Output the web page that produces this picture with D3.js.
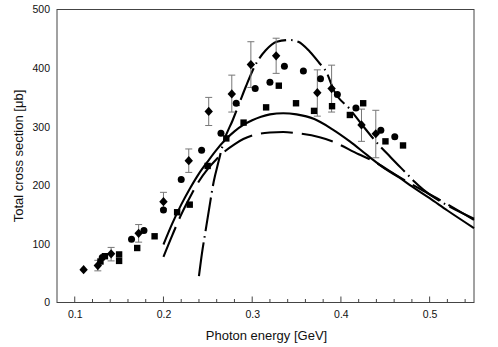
<!DOCTYPE html>
<html><head><meta charset="utf-8">
<script src="https://cdnjs.cloudflare.com/ajax/libs/d3/7.8.5/d3.min.js"></script>
<style>body{margin:0;background:#fff}svg{display:block}text{font-family:"Liberation Sans",Arial,sans-serif;fill:#111}</style>
</head><body><svg id="c" width="498" height="347"></svg>
<script>
// Data
const xTicks = [0.1, 0.2, 0.3, 0.4, 0.5];
const yTicks = [0, 100, 200, 300, 400, 500];

const diamondX  = [0.11, 0.126, 0.141, 0.172, 0.2, 0.2285, 0.251, 0.277, 0.2985, 0.327, 0.3734, 0.3895, 0.4232, 0.4393];
const diamondY  = [56, 63, 83, 118, 172, 242, 326, 356, 406, 421, 358, 365, 303, 288];
const diamondLo = [null, 54, 71, 103, 160, 222, 302, 325, 367, 391, 318, 325, 275, 247];
const diamondHi = [null, 72, 94, 133, 188, 262, 350, 388, 445, 451, 397, 405, 330, 328];

const circleX = [0.131, 0.164, 0.178, 0.2, 0.22, 0.243, 0.2648, 0.282, 0.3034, 0.32, 0.3363, 0.3577, 0.377, 0.396, 0.4169, 0.445, 0.4607];
const circleY = [77, 108, 123, 158, 210, 260, 289, 340, 365, 376, 403, 395, 382, 355, 332, 294, 283];

const squareX = [0.129, 0.134, 0.15, 0.15, 0.1704, 0.19, 0.2154, 0.2296, 0.2498, 0.2708, 0.2903, 0.3157, 0.33, 0.3494, 0.3697, 0.39, 0.4101, 0.4251, 0.4502, 0.47];
const squareY = [70, 79, 82, 71, 93, 113, 154, 167, 233, 280, 307, 333, 370, 340, 327, 335, 320, 340, 275, 268];

const solidX = [0.2, 0.21, 0.22, 0.23, 0.24, 0.25, 0.26, 0.27, 0.28, 0.29, 0.30, 0.31, 0.32, 0.335, 0.35, 0.37, 0.39, 0.41, 0.43, 0.45, 0.466, 0.48, 0.50, 0.52, 0.55];
const solidY = [99, 135, 167, 195, 220, 241, 261, 278, 292, 303, 311, 317, 321, 323, 321, 313, 296, 275, 251, 228, 213, 198, 178, 157, 127];

const dashX = [0.2, 0.21, 0.22, 0.23, 0.24, 0.25, 0.26, 0.27, 0.28, 0.29, 0.30, 0.32, 0.335, 0.35, 0.376, 0.39, 0.42, 0.433, 0.466, 0.49, 0.515, 0.55];
const dashY = [78, 115, 150, 180, 207, 228, 245, 259, 270, 279, 285, 290, 291, 289, 282, 275, 253, 244, 214, 193, 172, 141];

const dotDashX = [0.24, 0.2435, 0.2472, 0.252, 0.2566, 0.262, 0.268, 0.278, 0.286, 0.293, 0.3034, 0.315, 0.3277, 0.342, 0.352, 0.365, 0.375, 0.384, 0.392, 0.41, 0.425, 0.438, 0.456, 0.474, 0.483, 0.4925, 0.515, 0.55];
const dotDashY = [45, 85, 120, 165, 206, 240, 275, 311, 342, 369, 405, 430, 445, 448, 445, 428, 410, 392, 362, 330, 301, 277, 248, 220, 206, 193, 170, 143];

const svg = d3.select("#c");
const L = 57, R = 474, T = 9.5, B = 302.5;
const x = d3.scaleLinear().domain([0.08, 0.55]).range([L, R]);
const y = d3.scaleLinear().domain([0, 500]).range([B, T]);

// frame
svg.append("rect").attr("x", L).attr("y", T).attr("width", R - L).attr("height", B - T)
  .attr("fill", "none").attr("stroke", "#444").attr("stroke-width", 1);

// x ticks (inside), minor every 0.02
const minor = d3.range(0.1, 0.5401, 0.02);
svg.append("g").selectAll("line").data(minor).join("line")
  .attr("x1", d => x(d)).attr("x2", d => x(d))
  .attr("y1", B).attr("y2", d => B - (Math.abs(d * 10 - Math.round(d * 10)) < 1e-6 ? 6 : 3.5))
  .attr("stroke", "#444").attr("stroke-width", 1);

const xa = d3.axisBottom(x).tickValues(xTicks).tickSize(0).tickPadding(8).tickFormat(d3.format(".1f"));
const gx = svg.append("g").attr("transform", `translate(0,${B})`).call(xa);
gx.select(".domain").remove();
gx.selectAll("text").attr("font-size", 10.5).attr("font-family", "Liberation Sans, Arial, sans-serif").attr("fill", "#111");

const ya = d3.axisLeft(y).tickValues(yTicks).tickSize(0).tickPadding(7);
const gy = svg.append("g").attr("transform", `translate(${L},0)`).call(ya);
gy.select(".domain").remove();
gy.selectAll("text").attr("font-size", 10.5).attr("font-family", "Liberation Sans, Arial, sans-serif").attr("fill", "#111");

// axis titles
svg.append("text").attr("x", (L + R) / 2 + 1).attr("y", 340).attr("text-anchor", "middle")
  .attr("font-size", 13).text("Photon energy [GeV]");
svg.append("text").attr("transform", `translate(23,${(T + B) / 2}) rotate(-90)`).attr("text-anchor", "middle")
  .attr("font-size", 13).text("Total cross section [μb]");

// curves
const lineGen = (xs, ys) => d3.line().curve(d3.curveMonotoneX).x((d, i) => x(xs[i])).y((d, i) => y(ys[i]))(xs);
const curves = svg.append("g").attr("fill", "none").attr("stroke", "#000").attr("stroke-width", 2.1);
curves.append("path").attr("d", lineGen(solidX, solidY));
curves.append("path").attr("d", lineGen(dashX, dashY)).attr("stroke-dasharray", "32,9");
curves.append("path").attr("d", lineGen(dotDashX, dotDashY)).attr("stroke-dasharray", "34,5,1.5,5");

// error bars
const eb = svg.append("g").attr("stroke", "#777").attr("stroke-width", 1);
diamondX.forEach((dx, i) => {
  if (diamondLo[i] == null) return;
  const cx = x(dx);
  eb.append("line").attr("x1", cx).attr("x2", cx).attr("y1", y(diamondLo[i])).attr("y2", y(diamondHi[i]));
  [diamondLo[i], diamondHi[i]].forEach(v => eb.append("line").attr("x1", cx - 3.5).attr("x2", cx + 3.5).attr("y1", y(v)).attr("y2", y(v)));
});

// markers
const m = svg.append("g").attr("fill", "#000");
m.selectAll(".sq").data(squareX).join("rect").attr("class", "sq")
  .attr("x", (d) => x(d) - 3.2).attr("y", (d, i) => y(squareY[i]) - 3.2).attr("width", 6.4).attr("height", 6.4);
m.selectAll(".ci").data(circleX).join("circle").attr("class", "ci")
  .attr("cx", d => x(d)).attr("cy", (d, i) => y(circleY[i])).attr("r", 3.5);
m.selectAll(".di").data(diamondX).join("path").attr("class", "di")
  .attr("d", (d, i) => { const cx = x(d), cy = y(diamondY[i]); return `M${cx},${cy - 4.6}L${cx + 4.2},${cy}L${cx},${cy + 4.6}L${cx - 4.2},${cy}Z`; });
</script></body></html>
